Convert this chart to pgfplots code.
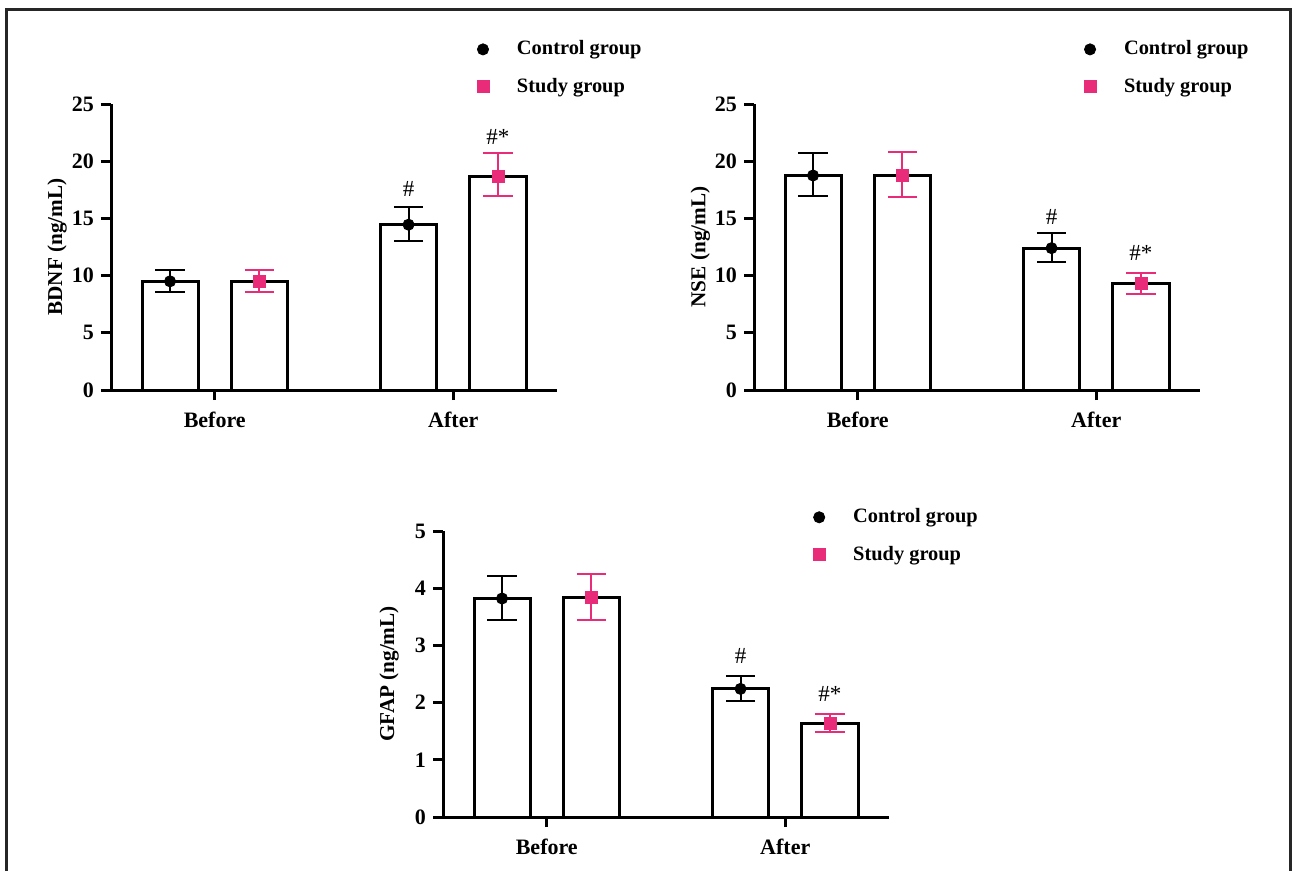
\documentclass[border=0pt]{standalone}
\usepackage{fontspec}
\setmainfont{Liberation Serif}
\usepackage{pgfplots}
\pgfplotsset{compat=1.18}
\definecolor{studypink}{RGB}{232,44,122}
\definecolor{framegray}{RGB}{38,38,38}
\tikzset{annot/.style={font=\fontsize{11.5}{13}\selectfont}}

\pgfplotsset{
  panel/.style={
    scale only axis, width=223pt, height=143pt,
    xmin=-0.435, xmax=1.435, ymin=0,
    axis x line*=bottom, axis y line*=left,
    axis line style={line width=1.5pt, black, -},
    every tick/.style={line width=1.5pt, black},
    major tick length=5pt, tick align=outside,
    xtick={0,1}, xticklabels={Before,After},
    /pgf/number format/assume math mode=true,
    tick label style={font=\fontsize{11}{13}\selectfont\bfseries},
    x tick label style={yshift=-2.5pt},
    ylabel style={at={(axis description cs:-0.083,0.5)}, anchor=south,
      font=\fontsize{10.6}{13}\selectfont\bfseries},
    clip=false, anchor=south west,
    legend cell align=left,
    legend image code/.code={\draw[##1] plot coordinates {(0pt,0pt)};},
  },
  lgd/.style={legend style={draw=none, fill=none, inner sep=0pt, outer sep=0pt,
    font=\fontsize{10.2}{12}\selectfont\bfseries, row sep=6pt,
    /tikz/every odd column/.append style={column sep=12pt}}},
  barsty/.style={ybar, bar width=0.235, bar shift=0pt, fill=white, draw=black, line width=1.5pt, forget plot},
  ctrl/.style={only marks, mark=*, mark size=2.8pt, black, forget plot,
    error bars/.cd, y dir=both, y explicit,
    error bar style={line width=1pt, black},
    error mark options={rotate=90, mark size=7.3pt, line width=1pt, black}},
  stud/.style={only marks, mark=square*, mark size=3pt, studypink, forget plot,
    error bars/.cd, y dir=both, y explicit,
    error bar style={line width=1pt, studypink},
    error mark options={rotate=90, mark size=7.3pt, line width=1pt, studypink}},
}

\begin{document}
\begin{tikzpicture}
\useasboundingbox (0pt,0pt) rectangle (646.5pt,-435.5pt);
\draw[framegray, line width=1.5pt] (3.25pt,-435.5pt) -- (3.25pt,-5pt) -- (645pt,-5pt) -- (645pt,-435.5pt);

% BDNF
\begin{axis}[panel, lgd, at={(55.5pt,-195pt)}, ymax=25, ytick={0,5,...,25},
  ylabel={BDNF (ng/mL)},
  legend style={at={(axis description cs:0.8206,1.126)}, anchor=west}]
\addplot[barsty] coordinates {(-0.1875,9.5) (0.8125,14.45)};
\addplot[barsty] coordinates {(0.1875,9.5) (1.1875,18.7)};
\addplot[ctrl] coordinates {(-0.1875,9.5) += (0,1.0) -= (0,0.9) (0.8125,14.45) += (0,1.55) -= (0,1.45)};
\addplot[stud] coordinates {(0.1875,9.5) += (0,1.0) -= (0,0.9) (1.1875,18.7) += (0,2.0) -= (0,1.75)};
\addlegendimage{only marks, mark=*, mark size=2.8pt, black}
\addlegendentry{Control group}
\addlegendimage{only marks, mark=square*, mark size=3pt, studypink}
\addlegendentry{Study group}
\node[annot] at (axis cs:0.8125,17.57) {\#};
\node[annot] at (axis cs:1.1875,22.1) {\#*};
\end{axis}

% NSE
\begin{axis}[panel, lgd, at={(377pt,-195pt)}, ymax=25, ytick={0,5,...,25},
  ylabel={NSE (ng/mL)},
  legend style={at={(axis description cs:0.740,1.126)}, anchor=west}]
\addplot[barsty] coordinates {(-0.1875,18.75) (0.8125,12.4)};
\addplot[barsty] coordinates {(0.1875,18.75) (1.1875,9.3)};
\addplot[ctrl] coordinates {(-0.1875,18.75) += (0,1.95) -= (0,1.8) (0.8125,12.4) += (0,1.3) -= (0,1.25)};
\addplot[stud] coordinates {(0.1875,18.75) += (0,2.05) -= (0,1.85) (1.1875,9.3) += (0,0.95) -= (0,0.95)};
\addlegendimage{only marks, mark=*, mark size=2.8pt, black}
\addlegendentry{Control group}
\addlegendimage{only marks, mark=square*, mark size=3pt, studypink}
\addlegendentry{Study group}
\node[annot] at (axis cs:0.8125,15.15) {\#};
\node[annot] at (axis cs:1.1875,11.95) {\#*};
\end{axis}

% GFAP
\begin{axis}[panel, lgd, at={(221.5pt,-408.5pt)}, ymax=5, ytick={0,1,...,5},
  ylabel={GFAP (ng/mL)},
  legend style={at={(axis description cs:0.830,0.983)}, anchor=west}]
\addplot[barsty] coordinates {(-0.1875,3.82) (0.8125,2.24)};
\addplot[barsty] coordinates {(0.1875,3.84) (1.1875,1.63)};
\addplot[ctrl] coordinates {(-0.1875,3.82) += (0,0.39) -= (0,0.37) (0.8125,2.24) += (0,0.23) -= (0,0.22)};
\addplot[stud] coordinates {(0.1875,3.84) += (0,0.41) -= (0,0.39) (1.1875,1.63) += (0,0.17) -= (0,0.15)};
\addlegendimage{only marks, mark=*, mark size=2.8pt, black}
\addlegendentry{Control group}
\addlegendimage{only marks, mark=square*, mark size=3pt, studypink}
\addlegendentry{Study group}
\node[annot] at (axis cs:0.8125,2.82) {\#};
\node[annot] at (axis cs:1.1875,2.15) {\#*};
\end{axis}
\end{tikzpicture}
\end{document}
